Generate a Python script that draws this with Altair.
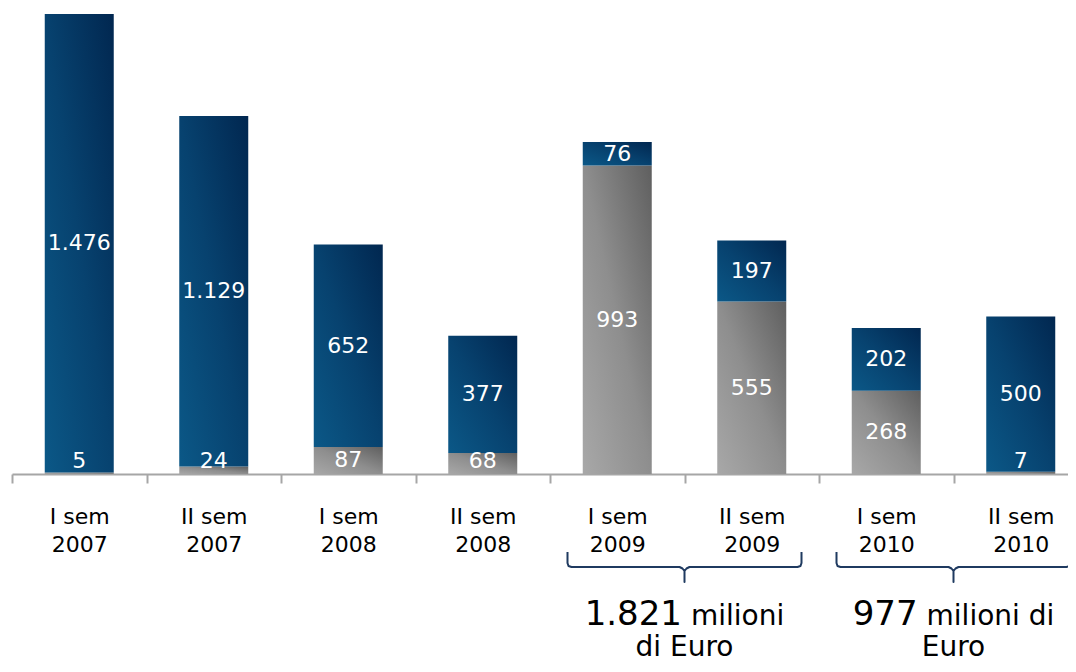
import altair as alt
import pandas as pd

# ---------------- data ----------------
semesters = ["I sem", "II sem", "I sem", "II sem", "I sem", "II sem", "I sem", "II sem"]
years = ["2007", "2007", "2008", "2008", "2009", "2009", "2010", "2010"]
gray_vals = [5, 24, 87, 68, 993, 555, 268, 7]
blue_vals = [1476, 1129, 652, 377, 76, 197, 202, 500]

group_years = ["2009", "2010"]
group_big = ["1.821", "977"]
group_unit = ["milioni", "milioni di"]
group_line2 = ["di Euro", "Euro"]

# ---------------- layout helpers ----------------
FONT = "DejaVu Sans"
STEP = 134.5                      # px per category band
XR = STEP * len(semesters)        # x range (extends past the visible area)
VIEW_W = 1056                     # visible plot width
H = 460                           # plot height
PAD = {"left": 4, "top": 6, "right": 0, "bottom": 190}
totals = [g + b for g, b in zip(gray_vals, blue_vals)]
YMAX = max(totals)
PPU = H / YMAX                    # pixels per data unit


def fmt(v):
    return f"{v:,}".replace(",", ".")


cats = [f"{s}|{y}" for s, y in zip(semesters, years)]

df = pd.DataFrame({
    "cat": cats,
    "g0": [0] * len(cats),
    "g1": gray_vals,
    "b0": gray_vals,
    "b1": totals,
    "g_lab": [fmt(v) for v in gray_vals],
    "b_lab": [fmt(v) for v in blue_vals],
    "g_y": [max(g / 2, 42) for g in gray_vals],
    "b_y": [g + b / 2 for g, b in zip(gray_vals, blue_vals)],
})

yscale = alt.Scale(domain=[0, YMAX], nice=False, zero=True)

blue_grad = alt.Gradient(
    gradient="linear",
    stops=[alt.GradientStop(color="#0b5887", offset=0),
           alt.GradientStop(color="#07426f", offset=0.5),
           alt.GradientStop(color="#012750", offset=1)],
    x1=0, y1=1, x2=1, y2=0)
gray_grad = alt.Gradient(
    gradient="linear",
    stops=[alt.GradientStop(color="#a8a8a8", offset=0),
           alt.GradientStop(color="#8e8e8e", offset=0.5),
           alt.GradientStop(color="#5f5f5f", offset=1)],
    x1=0, y1=1, x2=1, y2=0)

xenc = alt.X(
    "cat:N", sort=cats,
    scale=alt.Scale(paddingInner=0, paddingOuter=0, range=[0, XR]),
    axis=alt.Axis(
        title=None, labelAngle=0, tickBand="extent",
        labelExpr="split(datum.label, '|')",
        labelFont=FONT, labelFontSize=22, labelColor="#000000",
        labelLineHeight=28, labelPadding=23,
        domainColor="#a6a6a6", domainWidth=2,
        tickColor="#a6a6a6", tickWidth=2, tickSize=9,
        grid=False))

base = alt.Chart(df)
bar_w = alt.RelativeBandSize(band=0.513)

gray_bars = base.mark_bar(width=bar_w, color=gray_grad).encode(
    x=xenc,
    y=alt.Y("g0:Q", scale=yscale, axis=None),
    y2="g1:Q")
blue_bars = base.mark_bar(width=bar_w, color=blue_grad).encode(
    x=alt.X("cat:N", sort=cats),
    y=alt.Y("b0:Q", scale=yscale, axis=None),
    y2="b1:Q")
gray_txt = base.mark_text(color="white", font=FONT, fontSize=22, baseline="middle").encode(
    x=alt.X("cat:N", sort=cats),
    y=alt.Y("g_y:Q", scale=yscale, axis=None),
    text="g_lab:N")
blue_txt = base.mark_text(color="white", font=FONT, fontSize=22, baseline="middle").encode(
    x=alt.X("cat:N", sort=cats),
    y=alt.Y("b_y:Q", scale=yscale, axis=None),
    text="b_lab:N")

bars = alt.layer(gray_bars, blue_bars, gray_txt, blue_txt)

# ---------------- braces and totals below the axis ----------------
CW = {**{d: 0.636 for d in "0123456789"}, ".": 0.318, " ": 0.318, "m": 0.974,
      "i": 0.278, "l": 0.278, "o": 0.612, "n": 0.634, "d": 0.635, "E": 0.632,
      "u": 0.634, "r": 0.411}


def text_w(s, size):
    return sum(CW.get(c, 0.6) for c in s) * size


def ux(px):
    return px / STEP


def uy(px_below):
    return -px_below / PPU


# brace outline: (dx from centre, dy below brace top) in px
HALF = 117
brace_shape = [(-HALF, 0), (-HALF, 11), (-HALF + 1, 14), (-HALF + 4, 15), (-5, 15),
               (-2, 16.5), (0, 19), (0, 30), (0, 19), (2, 16.5), (5, 15),
               (HALF - 4, 15), (HALF - 1, 14), (HALF, 11), (HALF, 0)]
BRACE_TOP = 78      # px below baseline
LINE1 = 151
LINE2 = 182
GAP = 9

brace_rows, big_rows, unit_rows, l2_rows = [], [], [], []
for gy, big, unit, l2 in zip(group_years, group_big, group_unit, group_line2):
    idx = [i for i, y in enumerate(years) if y == gy]
    cu = (min(idx) + max(idx) + 1) / 2          # centre in band units
    for k, (dx, dy) in enumerate(brace_shape):
        brace_rows.append({"grp": gy, "o": k, "u": cu + ux(dx), "v": uy(BRACE_TOP + dy)})
    wb, wu = text_w(big, 34), text_w(unit, 28)
    split = cu + ux(-(wb + GAP + wu) / 2 + wb)
    big_rows.append({"u": split, "v": uy(LINE1), "t": big})
    unit_rows.append({"u": split, "v": uy(LINE1), "t": unit})
    l2_rows.append({"u": cu, "v": uy(LINE2), "t": l2})

uscale = alt.Scale(domain=[0, len(cats)], nice=False, zero=False, range=[0, XR])

braces = alt.Chart(pd.DataFrame(brace_rows)).mark_line(
    color="#1f3a60", strokeWidth=2, strokeJoin="round").encode(
    x=alt.X("u:Q", scale=uscale, axis=None),
    y=alt.Y("v:Q", scale=yscale, axis=None),
    detail="grp:N", order="o:Q")
big_txt = alt.Chart(pd.DataFrame(big_rows)).mark_text(
    font=FONT, fontSize=34, align="right", baseline="alphabetic", color="#000000").encode(
    x=alt.X("u:Q", scale=uscale, axis=None),
    y=alt.Y("v:Q", scale=yscale, axis=None),
    text="t:N")
unit_txt = alt.Chart(pd.DataFrame(unit_rows)).mark_text(
    font=FONT, fontSize=28, align="left", baseline="alphabetic", dx=GAP, color="#000000").encode(
    x=alt.X("u:Q", scale=uscale, axis=None),
    y=alt.Y("v:Q", scale=yscale, axis=None),
    text="t:N")
l2_txt = alt.Chart(pd.DataFrame(l2_rows)).mark_text(
    font=FONT, fontSize=28, align="center", baseline="alphabetic", color="#000000").encode(
    x=alt.X("u:Q", scale=uscale, axis=None),
    y=alt.Y("v:Q", scale=yscale, axis=None),
    text="t:N")

annot = alt.layer(braces, big_txt, unit_txt, l2_txt)

chart = alt.layer(bars, annot).resolve_scale(x="independent").properties(
    width=VIEW_W, height=H,
    padding=PAD,
    autosize=alt.AutoSizeParams(type="none"),
    background="white",
).configure_view(stroke=None)

chart.save("out.html", embed_options={"renderer": "svg", "actions": False})
